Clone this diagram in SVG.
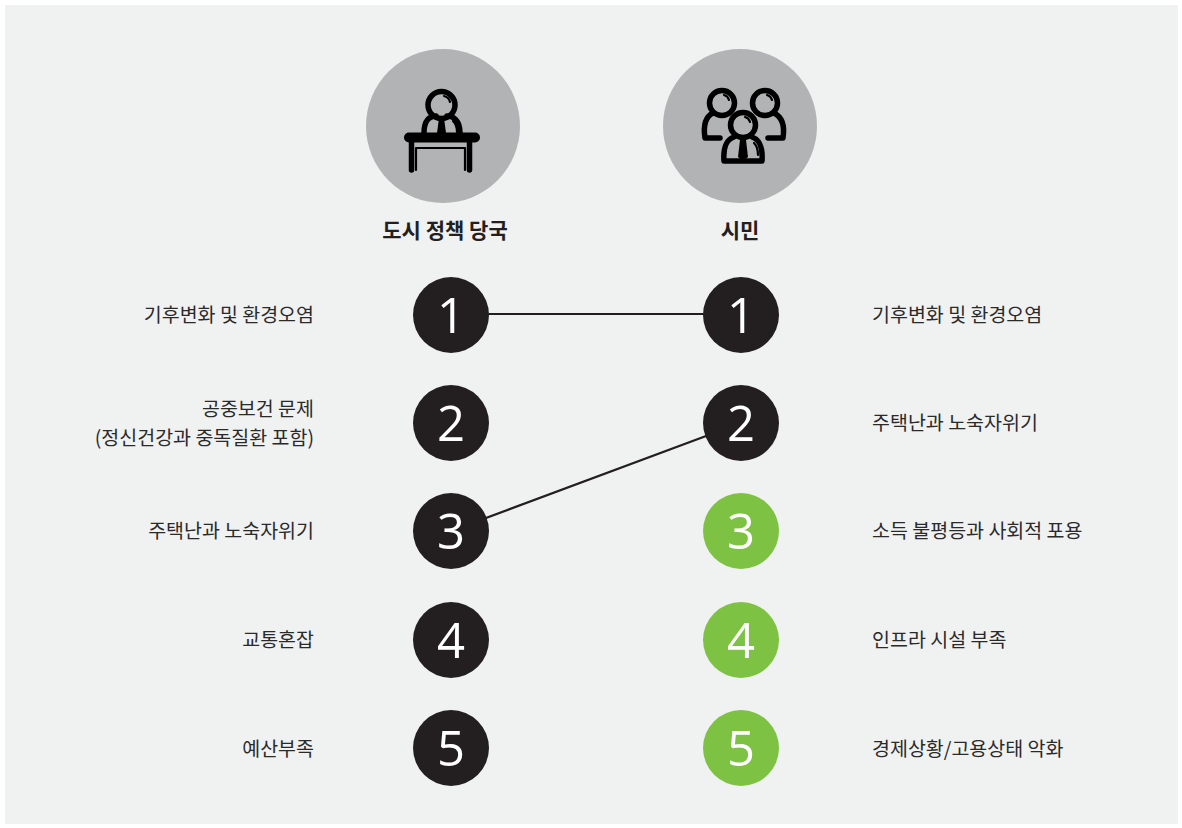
<svg xmlns="http://www.w3.org/2000/svg" width="1182" height="828" viewBox="0 0 1182 828">
<defs>
<style>
.bg{fill:#f0f1f1}
.hc{fill:#b1b3b4}
.dk{fill:#231f20}
.gr{fill:#7dc243}
.num{font-family:"Open Sans","DejaVu Sans",sans-serif;font-size:49px;fill:#ffffff;text-anchor:middle}
.lbl{font-family:"Noto Sans CJK KR","Noto Sans",sans-serif;font-size:19.5px;fill:#2a2a2a}
.l{text-anchor:end}
.hd{font-family:"Noto Sans CJK KR","Noto Sans",sans-serif;font-size:21px;font-weight:bold;fill:#231f20;text-anchor:middle}
.ic{fill:none;stroke:#000;stroke-width:5.5;stroke-linecap:round;stroke-linejoin:round}
.ict{fill:none;stroke:#000;stroke-width:2.2;stroke-linecap:round}
.con{stroke:#231f20;stroke-width:2.2;fill:none}
</style>
</defs>
<rect x="0" y="0" width="1182" height="828" fill="#ffffff"/>
<rect class="bg" x="5" y="5" width="1173" height="819"/>

<g id="connectors">
<line class="con" x1="451" y1="314" x2="741" y2="314"/>
<line class="con" x1="451" y1="531" x2="741" y2="423"/>
</g>

<g id="header-authority">
<circle class="hc" cx="443" cy="126" r="77"/>
<circle class="ic" cx="441.5" cy="105" r="13.5"/>
<path class="ict" d="M444 96 a8 8 0 0 1 6 6"/>
<path class="ic" d="M424 133 C424 120 430 116 436 116 M447 116 C453 116 460 120 460 133"/>
<path d="M439 118 L444 118 L446 133 L437 133 Z" fill="#000"/>
<path class="ict" d="M453 121 C456 124 457 128 457 132"/>
<line x1="409" y1="137.5" x2="475" y2="137.5" stroke="#000" stroke-width="10" stroke-linecap="round"/>
<path class="ic" d="M411.5 142 L411.5 170 M469.5 142 L469.5 170"/>
<path class="ict" d="M416 148 L465 148 M416 148 L416 170 M465 148 L465 170"/>
<text class="hd" x="445" y="238">도시 정책 당국</text>
</g>

<g id="header-citizen">
<circle class="hc" cx="740" cy="126" r="77"/>
<circle class="ic" cx="722" cy="103" r="12.5"/>
<path class="ict" d="M724 95 a7 7 0 0 1 5 5"/>
<path class="ic" d="M713 113 C705 117 703 125 705 138 L720 138"/>
<circle class="ic" cx="765" cy="103" r="12.5"/>
<path class="ict" d="M767 95 a7 7 0 0 1 5 5"/>
<path class="ic" d="M774 113 C782 117 785 125 783 138 L768 138"/>
<circle class="ic" cx="743" cy="125" r="12.5"/>
<path class="ict" d="M745 117 a7 7 0 0 1 5 5"/>
<path class="ic" d="M734 137 C726 140 723 147 724 161 L762 161 C763 147 760 140 752 137"/>
<path d="M740 140 L746 140 L748 157 L743 161 L738 157 Z" fill="#000"/>
<path class="ict" d="M754 143 C757 146 758 150 758 155"/>
<text class="hd" x="740" y="238">시민</text>
</g>

<g id="left-1"><circle class="dk" cx="451" cy="315" r="38"/><text class="num" x="451" y="333">1</text><text class="lbl l" x="314" y="322">기후변화 및 환경오염</text></g>
<g id="left-2"><circle class="dk" cx="451" cy="423" r="38"/><text class="num" x="451" y="441">2</text><text class="lbl l" x="314" y="416">공중보건 문제</text><text class="lbl l" x="314" y="445">(정신건강과 중독질환 포함)</text></g>
<g id="left-3"><circle class="dk" cx="451" cy="531" r="38"/><text class="num" x="451" y="549">3</text><text class="lbl l" x="314" y="538">주택난과 노숙자위기</text></g>
<g id="left-4"><circle class="dk" cx="451" cy="640" r="38"/><text class="num" x="451" y="658">4</text><text class="lbl l" x="314" y="647">교통혼잡</text></g>
<g id="left-5"><circle class="dk" cx="451" cy="748" r="38"/><text class="num" x="451" y="766">5</text><text class="lbl l" x="314" y="756">예산부족</text></g>

<g id="right-1"><circle class="dk" cx="741" cy="315" r="38"/><text class="num" x="741" y="333">1</text><text class="lbl" x="872" y="322">기후변화 및 환경오염</text></g>
<g id="right-2"><circle class="dk" cx="741" cy="423" r="38"/><text class="num" x="741" y="441">2</text><text class="lbl" x="872" y="430">주택난과 노숙자위기</text></g>
<g id="right-3"><circle class="gr" cx="741" cy="531" r="38"/><text class="num" x="741" y="549">3</text><text class="lbl" x="872" y="538">소득 불평등과 사회적 포용</text></g>
<g id="right-4"><circle class="gr" cx="741" cy="640" r="38"/><text class="num" x="741" y="658">4</text><text class="lbl" x="872" y="647">인프라 시설 부족</text></g>
<g id="right-5"><circle class="gr" cx="741" cy="748" r="38"/><text class="num" x="741" y="766">5</text><text class="lbl" x="872" y="756">경제상황/고용상태 악화</text></g>
</svg>
